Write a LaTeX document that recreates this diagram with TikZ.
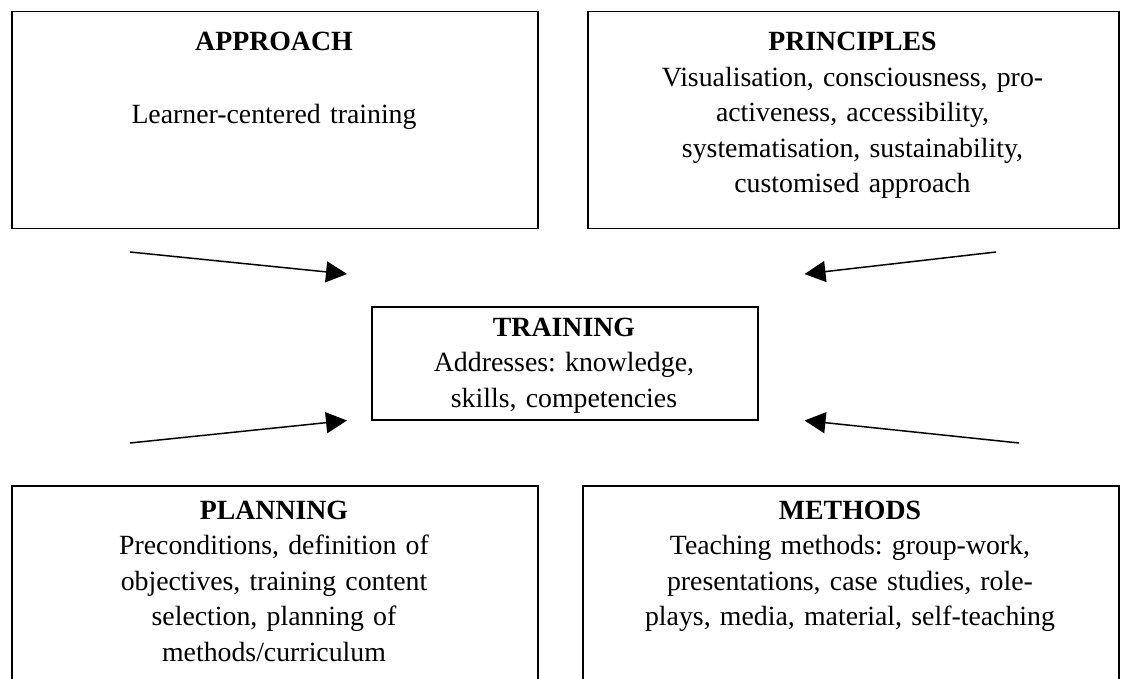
\documentclass[tikz,border=0pt]{standalone}
\usepackage{fontspec}
\setmainfont{Liberation Serif}
\usetikzlibrary{arrows.meta}
\frenchspacing
\tikzset{
  box/.style={draw, line width=1.5pt, rectangle, inner sep=0pt, anchor=north west},
  txt/.style={anchor=base, inner sep=0pt, text width=530pt, align=center,
              font=\fontsize{27.8pt}{35.5pt}\selectfont\frenchspacing},
  arr/.style={line width=1.5pt, -{Triangle[length=21pt,width=21pt]}}
}
\begin{document}
\begin{tikzpicture}[x=1pt,y=-1pt]
\useasboundingbox (0,0) rectangle (1130,679);
\clip (0,0) rectangle (1130,679);
% boxes
\node[box, minimum width=526pt, minimum height=217pt] (app) at (11,11) {};
\node[box, minimum width=531pt, minimum height=217pt] (pri) at (587,11) {};
\node[box, minimum width=386pt, minimum height=113pt] (tra) at (371,306) {};
\node[box, minimum width=526pt, minimum height=220pt] (pla) at (11,485) {};
\node[box, minimum width=536pt, minimum height=220pt] (met) at (582,485) {};
% texts
\node[txt] (appt) at (274,51) {\textbf{APPROACH}\\[2pt]\mbox{}\\Learner-centered training};
\node[txt] (prit) at (852.5,51) {\textbf{PRINCIPLES}\\Visualisation, consciousness, pro-\\activeness, accessibility,\\systematisation, sustainability,\\customised approach};
\node[txt] (trat) at (564,336) {\textbf{TRAINING}\\Addresses: knowledge,\\skills, competencies};
\node[txt] (plat) at (274,519) {\textbf{PLANNING}\\Preconditions, definition of\\objectives, training content\\selection, planning of\\methods/curriculum};
\node[txt] (mett) at (850,519) {\textbf{METHODS}\\Teaching methods: group-work,\\presentations, case studies, role-\\plays, media, material, self-teaching};
% arrow tails
\coordinate (s1) at (130,252);
\coordinate (s2) at (996,252);
\coordinate (s3) at (130,443);
\coordinate (s4) at (1019,443);
\draw[arr] (s1) -- ([xshift=-24pt,yshift=32pt]tra.north west);
\draw[arr] (s2) -- ([xshift=46pt,yshift=32pt]tra.north east);
\draw[arr] (s3) -- ([xshift=-24pt]tra.south west);
\draw[arr] (s4) -- ([xshift=46pt]tra.south east);
\end{tikzpicture}
\end{document}
